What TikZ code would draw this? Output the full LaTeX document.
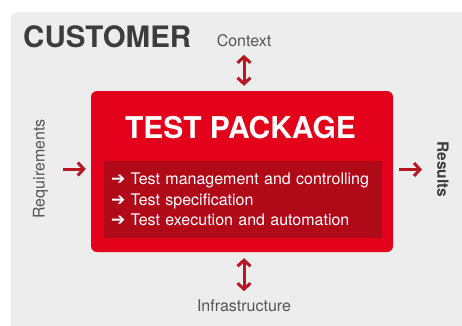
\documentclass[tikz,border=0pt]{standalone}
\usepackage{fontspec}
\setmainfont{TeX Gyre Heros}
\newfontfamily\arrowfont{DejaVu Sans}
\usetikzlibrary{positioning, arrows.meta}
\definecolor{panelgray}{HTML}{EDEDED}
\definecolor{testred}{HTML}{E2001A}
\definecolor{darkred}{HTML}{B00A19}
\definecolor{arrowred}{HTML}{B41822}
\definecolor{textgray}{HTML}{555555}
\definecolor{titlegray}{HTML}{3C3C3C}
\newcommand{\bulletArrow}{{\arrowfont\bfseries\fontsize{17}{20.5}\selectfont ➔}\ }

\begin{document}
\begin{tikzpicture}[x=1pt, y=1pt]
	\tikzstyle{package} = [rectangle, rounded corners=6pt, minimum width=302pt, 
	minimum height=161pt, fill=testred]
	\tikzstyle{tasks} = [rectangle, minimum width=278pt, minimum height=77pt, 
	text width=264pt, inner xsep=7pt, align=left, fill=darkred, text=white, 
	font=\fontsize{16}{20.5}\selectfont]
	\tikzstyle{side} = [text=textgray, font=\fontsize{16}{19}\selectfont]
	\tikzstyle{arrow} = [arrowred, line width=3pt, 
	-{Straight Barb[length=6pt, width=13pt]}]
	\tikzstyle{dblarrow} = [arrow, 
	{Straight Barb[length=6pt, width=13pt]}-{Straight Barb[length=6pt, width=13pt]}]
	% customer panel
	\useasboundingbox (0,0) rectangle (462,325);
	\clip (0,0) rectangle (462,325);
	\fill [panelgray, rounded corners=6pt] (11,-10) rectangle (472,313);
	\node (customer) [anchor=base west, inner sep=0pt, text=titlegray, 
	font=\fontsize{29.5}{30}\selectfont\bfseries] at (23,278) {CUSTOMER};
	% test package
	\node (package) [package] at (242,153.5) {};
	\node (title) [text=white, font=\fontsize{30}{30}\selectfont\bfseries] 
	at (240.5,197.5) {TEST PACKAGE};
	\node (tasks) [tasks] at (243,125.5) {\bulletArrow Test management and controlling\\
	\bulletArrow Test specification\\
	\bulletArrow Test execution and automation};
	% inputs and outputs
	\node (context) [side, above=40.7pt of package, xshift=2pt] {Context};
	\node (infrastructure) [side, below=44pt of package, xshift=2pt] {Infrastructure};
	\node (requirements) [side, rotate=90] at (40.5,156) {Requirements};
	\node (results) [side, rotate=-90, text=titlegray, 
	font=\fontsize{15.5}{18}\selectfont\bfseries] at (443,155.5) {Results};
	\draw [dblarrow, shorten <=4.7pt, shorten >=5pt] (context) -- (context |- package.north);
	\draw [dblarrow, shorten <=6pt, shorten >=5pt] (infrastructure |- package.south) -- (infrastructure);
	\draw [arrow, shorten <=11.5pt, shorten >=5pt] (requirements) -- (requirements -| package.west);
	\draw [arrow, shorten <=6pt, shorten >=11.7pt] (results -| package.east) -- (results);
\end{tikzpicture}
\end{document}
